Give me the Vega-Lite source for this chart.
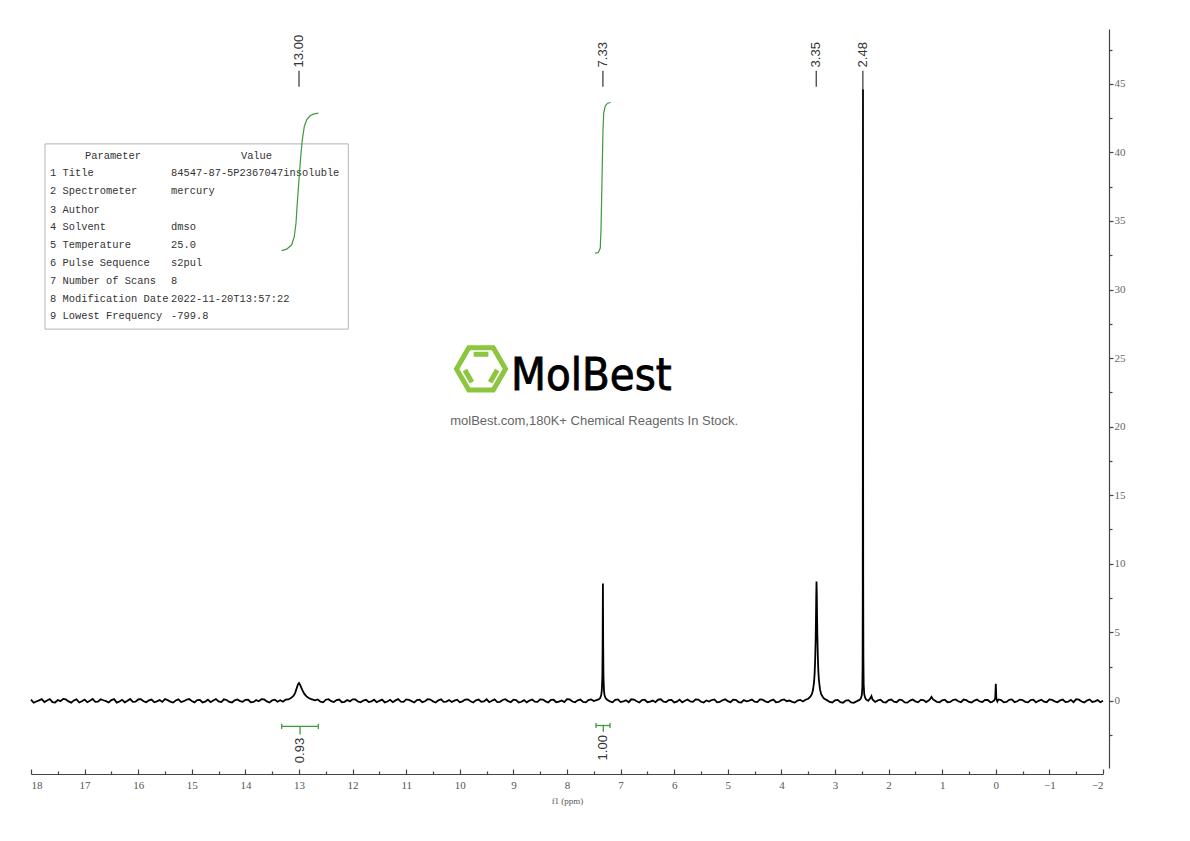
{
  "$schema": "https://vega.github.io/schema/vega-lite/v6.json",
  "width": 1072,
  "height": 739,
  "autosize": {"type": "none"},
  "padding": {"left": 31, "top": 29, "right": 87, "bottom": 73},
  "background": "white",
  "config": {"view": {"stroke": null}},
  "datasets": {
    "spectrum": [
      {"ppm":18.0,"val":0.08},{"ppm":17.9,"val":-0.05},{"ppm":17.8,"val":0.12},{"ppm":17.7,"val":0.02},{"ppm":17.6,"val":-0.1},{"ppm":17.5,"val":0.06},{"ppm":17.4,"val":0.14},{"ppm":17.3,"val":-0.04},{"ppm":17.2,"val":0.03},{"ppm":17.1,"val":-0.12},
      {"ppm":17.0,"val":0.09},{"ppm":16.9,"val":0.01},{"ppm":16.8,"val":-0.07},{"ppm":16.7,"val":0.11},{"ppm":16.6,"val":-0.02},{"ppm":16.5,"val":0.05},{"ppm":16.4,"val":-0.13},{"ppm":16.3,"val":0.07},{"ppm":16.2,"val":0.0},{"ppm":16.1,"val":-0.08},
      {"ppm":16.0,"val":0.1},{"ppm":15.9,"val":-0.03},{"ppm":15.8,"val":0.04},{"ppm":15.7,"val":-0.11},{"ppm":15.6,"val":0.06},{"ppm":15.5,"val":0.13},{"ppm":15.4,"val":-0.06},{"ppm":15.3,"val":0.02},{"ppm":15.2,"val":-0.09},{"ppm":15.1,"val":0.08},
      {"ppm":15.0,"val":-0.01},{"ppm":14.9,"val":0.05},{"ppm":14.8,"val":-0.12},{"ppm":14.7,"val":0.09},{"ppm":14.6,"val":0.03},{"ppm":14.5,"val":-0.05},{"ppm":14.4,"val":0.11},{"ppm":14.3,"val":-0.08},{"ppm":14.2,"val":0.04},{"ppm":14.1,"val":-0.02},
      {"ppm":14.0,"val":0.07},{"ppm":13.9,"val":-0.1},{"ppm":13.8,"val":0.05},{"ppm":13.7,"val":0.12},{"ppm":13.6,"val":-0.04},{"ppm":13.5,"val":0.03},{"ppm":13.4,"val":-0.07},
      {"ppm":17.95,"val":-0.14},{"ppm":17.85,"val":0.03},{"ppm":17.75,"val":-0.09},{"ppm":17.65,"val":0.13},{"ppm":17.55,"val":-0.12},{"ppm":17.45,"val":-0.02},{"ppm":17.35,"val":0.1},{"ppm":17.25,"val":-0.13},{"ppm":17.15,"val":0.11},{"ppm":17.05,"val":-0.03},
      {"ppm":16.95,"val":-0.1},{"ppm":16.85,"val":0.14},{"ppm":16.75,"val":-0.06},{"ppm":16.65,"val":0.04},{"ppm":16.55,"val":-0.12},{"ppm":16.45,"val":0.12},{"ppm":16.35,"val":-0.05},{"ppm":16.25,"val":-0.11},{"ppm":16.15,"val":0.13},{"ppm":16.05,"val":-0.06},
      {"ppm":15.95,"val":0.12},{"ppm":15.85,"val":-0.1},{"ppm":15.75,"val":0.09},{"ppm":15.65,"val":-0.04},{"ppm":15.55,"val":-0.08},{"ppm":15.45,"val":0.05},{"ppm":15.35,"val":-0.13},{"ppm":15.25,"val":0.11},{"ppm":15.15,"val":-0.03},{"ppm":15.05,"val":0.13},
      {"ppm":14.95,"val":-0.11},{"ppm":14.85,"val":0.07},{"ppm":14.75,"val":-0.06},{"ppm":14.65,"val":-0.1},{"ppm":14.55,"val":0.13},{"ppm":14.45,"val":-0.09},{"ppm":14.35,"val":0.06},{"ppm":14.25,"val":-0.12},{"ppm":14.15,"val":0.1},{"ppm":14.05,"val":-0.07},
      {"ppm":13.95,"val":0.09},{"ppm":13.85,"val":-0.08},{"ppm":13.75,"val":-0.03},{"ppm":13.65,"val":0.1},{"ppm":13.55,"val":-0.12},{"ppm":13.45,"val":0.08},
      {"ppm":13.35,"val":0.04},{"ppm":13.3,"val":-0.06},{"ppm":13.25,"val":0.08},{"ppm":13.2,"val":0.1},{"ppm":13.15,"val":0.2},{"ppm":13.1,"val":0.38},{"ppm":13.07,"val":0.6},{"ppm":13.04,"val":0.95},{"ppm":13.02,"val":1.2},{"ppm":13.0,"val":1.3},
      {"ppm":12.98,"val":1.18},{"ppm":12.96,"val":0.98},{"ppm":12.93,"val":0.72},{"ppm":12.9,"val":0.5},{"ppm":12.86,"val":0.32},{"ppm":12.82,"val":0.2},{"ppm":12.77,"val":0.12},{"ppm":12.7,"val":0.03},
      {"ppm":12.6,"val":-0.06},{"ppm":12.5,"val":0.08},{"ppm":12.4,"val":-0.03},{"ppm":12.3,"val":0.05},{"ppm":12.2,"val":-0.1},{"ppm":12.1,"val":0.06},{"ppm":12.0,"val":0.11},{"ppm":11.9,"val":-0.05},{"ppm":11.8,"val":0.02},{"ppm":11.7,"val":-0.09},
      {"ppm":11.6,"val":0.08},{"ppm":11.5,"val":0.0},{"ppm":11.4,"val":-0.12},{"ppm":11.3,"val":0.07},{"ppm":11.2,"val":0.03},{"ppm":11.1,"val":-0.06},{"ppm":11.0,"val":0.1},{"ppm":10.9,"val":-0.02},{"ppm":10.8,"val":0.05},{"ppm":10.7,"val":-0.1},
      {"ppm":10.6,"val":0.12},{"ppm":10.5,"val":-0.04},{"ppm":10.4,"val":0.03},{"ppm":10.3,"val":-0.08},{"ppm":10.2,"val":0.06},{"ppm":10.1,"val":0.01},{"ppm":10.0,"val":-0.11},{"ppm":9.9,"val":0.09},{"ppm":9.8,"val":-0.03},{"ppm":9.7,"val":0.04},
      {"ppm":9.6,"val":-0.07},{"ppm":9.5,"val":0.11},{"ppm":9.4,"val":0.0},{"ppm":9.3,"val":-0.09},{"ppm":9.2,"val":0.06},{"ppm":9.1,"val":-0.02},{"ppm":9.0,"val":0.08},{"ppm":8.9,"val":-0.12},{"ppm":8.8,"val":0.05},{"ppm":8.7,"val":0.02},
      {"ppm":8.6,"val":-0.06},{"ppm":8.5,"val":0.1},{"ppm":8.4,"val":-0.04},{"ppm":8.3,"val":0.07},{"ppm":8.2,"val":-0.1},{"ppm":8.1,"val":0.03},{"ppm":8.0,"val":0.12},{"ppm":7.9,"val":-0.05},{"ppm":7.8,"val":0.04},{"ppm":7.7,"val":-0.08},
      {"ppm":12.65,"val":0.1},{"ppm":12.55,"val":-0.11},{"ppm":12.45,"val":0.12},{"ppm":12.35,"val":-0.09},{"ppm":12.25,"val":0.09},{"ppm":12.15,"val":-0.07},{"ppm":12.05,"val":-0.04},{"ppm":11.95,"val":0.1},{"ppm":11.85,"val":-0.11},{"ppm":11.75,"val":0.07},
      {"ppm":11.65,"val":-0.05},{"ppm":11.55,"val":-0.1},{"ppm":11.45,"val":0.09},{"ppm":11.35,"val":-0.05},{"ppm":11.25,"val":-0.1},{"ppm":11.15,"val":0.12},{"ppm":11.05,"val":-0.08},{"ppm":10.95,"val":0.07},{"ppm":10.85,"val":-0.12},{"ppm":10.75,"val":0.08},
      {"ppm":10.65,"val":-0.03},{"ppm":10.55,"val":0.09},{"ppm":10.45,"val":-0.12},{"ppm":10.35,"val":0.11},{"ppm":10.25,"val":-0.06},{"ppm":10.15,"val":-0.09},{"ppm":10.05,"val":0.08},{"ppm":9.95,"val":-0.04},{"ppm":9.85,"val":0.11},{"ppm":9.75,"val":-0.12},
      {"ppm":9.65,"val":0.09},{"ppm":9.55,"val":-0.05},{"ppm":9.45,"val":-0.1},{"ppm":9.35,"val":0.1},{"ppm":9.25,"val":-0.07},{"ppm":9.15,"val":0.12},{"ppm":9.05,"val":-0.1},{"ppm":8.95,"val":0.06},{"ppm":8.85,"val":-0.07},{"ppm":8.75,"val":-0.11},
      {"ppm":8.65,"val":0.1},{"ppm":8.55,"val":-0.08},{"ppm":8.45,"val":0.09},{"ppm":8.35,"val":-0.12},{"ppm":8.25,"val":0.08},{"ppm":8.15,"val":-0.06},{"ppm":8.05,"val":-0.09},{"ppm":7.95,"val":0.1},{"ppm":7.85,"val":-0.1},{"ppm":7.75,"val":0.09},
      {"ppm":7.65,"val":-0.11},{"ppm":7.55,"val":0.1},
      {"ppm":7.6,"val":0.06},{"ppm":7.5,"val":-0.02},{"ppm":7.45,"val":0.05},{"ppm":7.41,"val":0.1},{"ppm":7.38,"val":0.2},{"ppm":7.36,"val":0.45},{"ppm":7.35,"val":0.8},{"ppm":7.34,"val":1.8},{"ppm":7.335,"val":4.2},{"ppm":7.33,"val":8.55},
      {"ppm":7.325,"val":4.2},{"ppm":7.32,"val":1.8},{"ppm":7.31,"val":0.75},{"ppm":7.3,"val":0.4},{"ppm":7.28,"val":0.2},{"ppm":7.25,"val":0.08},{"ppm":7.2,"val":-0.04},{"ppm":7.1,"val":0.07},{"ppm":7.0,"val":-0.09},
      {"ppm":7.15,"val":-0.11},{"ppm":7.05,"val":0.1},{"ppm":6.95,"val":-0.05},{"ppm":6.85,"val":-0.1},{"ppm":6.75,"val":0.09},{"ppm":6.65,"val":-0.12},{"ppm":6.55,"val":0.08},{"ppm":6.45,"val":-0.06},{"ppm":6.35,"val":-0.1},{"ppm":6.25,"val":0.11},
      {"ppm":6.15,"val":-0.09},{"ppm":6.05,"val":0.07},{"ppm":5.95,"val":-0.06},{"ppm":5.85,"val":-0.11},{"ppm":5.75,"val":0.1},{"ppm":5.65,"val":-0.08},{"ppm":5.55,"val":0.09},{"ppm":5.45,"val":-0.12},{"ppm":5.35,"val":-0.05},{"ppm":5.25,"val":0.1},
      {"ppm":5.15,"val":-0.08},{"ppm":5.05,"val":0.11},{"ppm":4.95,"val":-0.1},{"ppm":4.85,"val":0.07},{"ppm":4.75,"val":-0.12},{"ppm":4.65,"val":-0.04},{"ppm":4.55,"val":0.1},{"ppm":4.45,"val":-0.09},{"ppm":4.35,"val":0.08},{"ppm":4.25,"val":-0.11},
      {"ppm":4.15,"val":0.09},{"ppm":4.05,"val":-0.08},{"ppm":3.95,"val":0.1},{"ppm":3.85,"val":0.02},{"ppm":3.75,"val":-0.13},{"ppm":3.65,"val":0.07},
      {"ppm":6.9,"val":0.04},{"ppm":6.8,"val":0.11},{"ppm":6.7,"val":-0.03},{"ppm":6.6,"val":0.06},{"ppm":6.5,"val":-0.1},{"ppm":6.4,"val":0.02},{"ppm":6.3,"val":0.08},{"ppm":6.2,"val":-0.06},{"ppm":6.1,"val":0.05},{"ppm":6.0,"val":-0.12},
      {"ppm":5.9,"val":0.09},{"ppm":5.8,"val":0.0},{"ppm":5.7,"val":-0.05},{"ppm":5.6,"val":0.1},{"ppm":5.5,"val":-0.07},{"ppm":5.4,"val":0.03},{"ppm":5.3,"val":0.06},{"ppm":5.2,"val":-0.11},{"ppm":5.1,"val":0.04},{"ppm":5.0,"val":-0.02},
      {"ppm":4.9,"val":0.08},{"ppm":4.8,"val":-0.09},{"ppm":4.7,"val":0.05},{"ppm":4.6,"val":0.01},{"ppm":4.5,"val":-0.06},{"ppm":4.4,"val":0.1},{"ppm":4.3,"val":-0.04},{"ppm":4.2,"val":0.02},{"ppm":4.1,"val":-0.1},{"ppm":4.0,"val":0.05},
      {"ppm":3.9,"val":-0.03},{"ppm":3.8,"val":-0.08},{"ppm":3.7,"val":0.02},{"ppm":3.6,"val":-0.05},{"ppm":3.55,"val":0.08},{"ppm":3.5,"val":0.15},{"ppm":3.46,"val":0.3},{"ppm":3.43,"val":0.5},{"ppm":3.41,"val":0.8},{"ppm":3.39,"val":1.4},
      {"ppm":3.38,"val":2.0},{"ppm":3.37,"val":3.0},{"ppm":3.36,"val":4.6},{"ppm":3.355,"val":6.0},{"ppm":3.35,"val":7.6},{"ppm":3.345,"val":8.7},{"ppm":3.34,"val":7.8},{"ppm":3.335,"val":6.3},{"ppm":3.33,"val":4.9},{"ppm":3.32,"val":3.2},
      {"ppm":3.31,"val":2.1},{"ppm":3.3,"val":1.5},{"ppm":3.28,"val":0.85},{"ppm":3.26,"val":0.5},{"ppm":3.23,"val":0.3},{"ppm":3.2,"val":0.15},{"ppm":3.15,"val":0.05},{"ppm":3.1,"val":-0.08},{"ppm":3.0,"val":0.04},{"ppm":2.9,"val":-0.1},
      {"ppm":3.05,"val":-0.12},{"ppm":2.95,"val":0.07},{"ppm":2.85,"val":-0.14},{"ppm":2.75,"val":0.05},{"ppm":2.65,"val":-0.15},
      {"ppm":2.8,"val":0.02},{"ppm":2.7,"val":-0.12},{"ppm":2.6,"val":-0.04},{"ppm":2.55,"val":0.05},{"ppm":2.52,"val":0.15},{"ppm":2.5,"val":0.4},{"ppm":2.49,"val":1.0},{"ppm":2.485,"val":2.5},{"ppm":2.482,"val":8.0},{"ppm":2.48,"val":25.0},
      {"ppm":2.478,"val":44.6},{"ppm":2.476,"val":25.5},{"ppm":2.474,"val":9.0},{"ppm":2.47,"val":3.0},{"ppm":2.465,"val":1.2},{"ppm":2.455,"val":0.5},{"ppm":2.44,"val":0.25},{"ppm":2.42,"val":0.1},{"ppm":2.38,"val":0.0},{"ppm":2.34,"val":0.2},
      {"ppm":2.32,"val":0.35},{"ppm":2.3,"val":0.1},{"ppm":2.25,"val":-0.08},{"ppm":2.2,"val":0.03},{"ppm":2.1,"val":-0.1},{"ppm":2.0,"val":0.05},{"ppm":1.9,"val":-0.06},{"ppm":1.8,"val":0.08},{"ppm":1.7,"val":-0.11},{"ppm":1.6,"val":0.02},
      {"ppm":2.15,"val":0.08},{"ppm":2.05,"val":-0.12},{"ppm":1.95,"val":0.09},{"ppm":1.85,"val":-0.1},{"ppm":1.75,"val":0.06},{"ppm":1.65,"val":-0.13},{"ppm":1.55,"val":0.09},{"ppm":1.45,"val":-0.11},{"ppm":1.35,"val":0.05},{"ppm":1.05,"val":-0.11},
      {"ppm":0.95,"val":0.08},{"ppm":0.85,"val":-0.08},{"ppm":0.75,"val":0.1},{"ppm":0.65,"val":-0.1},{"ppm":0.55,"val":0.05},{"ppm":0.45,"val":-0.12},{"ppm":0.35,"val":0.09},{"ppm":0.25,"val":-0.09},{"ppm":0.15,"val":0.06},{"ppm":0.07,"val":-0.08},
      {"ppm":1.5,"val":-0.04},{"ppm":1.4,"val":0.07},{"ppm":1.3,"val":-0.09},{"ppm":1.24,"val":0.05},{"ppm":1.2,"val":0.28},{"ppm":1.17,"val":0.1},{"ppm":1.1,"val":-0.07},{"ppm":1.0,"val":0.04},{"ppm":0.9,"val":-0.1},{"ppm":0.8,"val":0.06},
      {"ppm":0.7,"val":-0.03},{"ppm":0.6,"val":0.09},{"ppm":0.5,"val":-0.08},{"ppm":0.4,"val":0.02},{"ppm":0.3,"val":-0.05},{"ppm":0.2,"val":0.07},{"ppm":0.1,"val":-0.1},{"ppm":0.03,"val":0.03},{"ppm":0.01,"val":0.2},{"ppm":0.0,"val":1.25},
      {"ppm":-0.01,"val":0.15},{"ppm":-0.03,"val":-0.05},{"ppm":-0.1,"val":0.06},{"ppm":-0.2,"val":-0.08},{"ppm":-0.3,"val":0.1},{"ppm":-0.4,"val":-0.03},{"ppm":-0.5,"val":0.05},{"ppm":-0.6,"val":-0.11},{"ppm":-0.7,"val":0.08},{"ppm":-0.8,"val":0.0},
      {"ppm":-0.9,"val":-0.06},{"ppm":-1.0,"val":0.1},{"ppm":-1.1,"val":-0.04},{"ppm":-1.2,"val":0.03},{"ppm":-1.3,"val":-0.09},{"ppm":-1.4,"val":0.07},{"ppm":-1.5,"val":0.12},{"ppm":-1.6,"val":-0.05},{"ppm":-1.7,"val":0.02},{"ppm":-1.8,"val":-0.08},
      {"ppm":-1.9,"val":0.06},{"ppm":-2.0,"val":0.01},
      {"ppm":-0.05,"val":0.1},{"ppm":-0.15,"val":-0.11},{"ppm":-0.25,"val":0.07},{"ppm":-0.35,"val":-0.1},{"ppm":-0.45,"val":0.09},{"ppm":-0.55,"val":-0.07},{"ppm":-0.65,"val":0.06},{"ppm":-0.75,"val":-0.12},{"ppm":-0.85,"val":0.08},{"ppm":-0.95,"val":-0.1},
      {"ppm":-1.05,"val":0.07},{"ppm":-1.15,"val":-0.11},{"ppm":-1.25,"val":0.09},{"ppm":-1.35,"val":-0.06},{"ppm":-1.45,"val":-0.1},{"ppm":-1.55,"val":0.08},{"ppm":-1.65,"val":-0.12},{"ppm":-1.75,"val":0.1},{"ppm":-1.85,"val":-0.04},{"ppm":-1.95,"val":-0.1}
    ],
    "integrals": [
      {"curve":"a","ppm":13.323,"val":32.84},{"curve":"a","ppm":13.23,"val":32.94},{"curve":"a","ppm":13.136,"val":33.26},{"curve":"a","ppm":13.088,"val":33.86},{"curve":"a","ppm":13.056,"val":34.84},{"curve":"a","ppm":13.032,"val":36.3},{"curve":"a","ppm":13.0,"val":38.0},{"curve":"a","ppm":12.968,"val":39.7},{"curve":"a","ppm":12.938,"val":40.92},{"curve":"a","ppm":12.901,"val":41.89},{"curve":"a","ppm":12.856,"val":42.37},{"curve":"a","ppm":12.795,"val":42.67},{"curve":"a","ppm":12.72,"val":42.81},{"curve":"a","ppm":12.64,"val":42.86},
      {"curve":"b","ppm":7.478,"val":32.65},{"curve":"b","ppm":7.416,"val":32.7},{"curve":"b","ppm":7.379,"val":33.02},{"curve":"b","ppm":7.366,"val":34.35},{"curve":"b","ppm":7.353,"val":36.78},{"curve":"b","ppm":7.341,"val":39.22},{"curve":"b","ppm":7.328,"val":41.65},{"curve":"b","ppm":7.315,"val":42.86},{"curve":"b","ppm":7.285,"val":43.4},{"curve":"b","ppm":7.241,"val":43.59},{"curve":"b","ppm":7.185,"val":43.64}
    ],
    "brackets": [
      {"ppm":13.323,"ppm2":12.64,"val":-1.87,"val2":-1.87},
      {"ppm":13.323,"ppm2":13.323,"val":-1.68,"val2":-2.05},
      {"ppm":12.64,"ppm2":12.64,"val":-1.68,"val2":-2.05},
      {"ppm":12.98,"ppm2":12.98,"val":-1.87,"val2":-2.45},
      {"ppm":7.459,"ppm2":7.198,"val":-1.8,"val2":-1.8},
      {"ppm":7.459,"ppm2":7.459,"val":-1.62,"val2":-1.98},
      {"ppm":7.198,"ppm2":7.198,"val":-1.62,"val2":-1.98},
      {"ppm":7.323,"ppm2":7.323,"val":-1.8,"val2":-2.25}
    ],
    "integralLabels": [
      {"ppm":12.98,"val":-2.7,"label":"0.93"},
      {"ppm":7.323,"val":-2.5,"label":"1.00"}
    ],
    "peakRules": [
      {"ppm":13.0,"val":45.95,"val2":44.78},
      {"ppm":7.33,"val":45.95,"val2":44.78},
      {"ppm":3.35,"val":45.95,"val2":44.78},
      {"ppm":2.48,"val":45.95,"val2":44.6}
    ],
    "peakLabels": [
      {"ppm":13.0,"val":46.2,"label":"13.00"},
      {"ppm":7.33,"val":46.2,"label":"7.33"},
      {"ppm":3.35,"val":46.2,"label":"3.35"},
      {"ppm":2.48,"val":46.2,"label":"2.48"}
    ],
    "tableBox": [{"ppm":17.739,"ppm2":12.08,"val":40.62,"val2":27.11}],
    "tableHead": [
      {"ppm":16.47,"val":39.77,"label":"Parameter"},
      {"ppm":13.793,"val":39.77,"label":"Value"}
    ],
    "tableCells": [
      {"ppm":17.646,"val":38.49,"label":"1 Title"},
      {"ppm":15.388,"val":38.49,"label":"84547-87-5P2367047insoluble"},
      {"ppm":17.646,"val":37.15,"label":"2 Spectrometer"},
      {"ppm":15.388,"val":37.15,"label":"mercury"},
      {"ppm":17.646,"val":35.83,"label":"3 Author"},
      {"ppm":17.646,"val":34.55,"label":"4 Solvent"},
      {"ppm":15.388,"val":34.55,"label":"dmso"},
      {"ppm":17.646,"val":33.24,"label":"5 Temperature"},
      {"ppm":15.388,"val":33.24,"label":"25.0"},
      {"ppm":17.646,"val":31.95,"label":"6 Pulse Sequence"},
      {"ppm":15.388,"val":31.95,"label":"s2pul"},
      {"ppm":17.646,"val":30.65,"label":"7 Number of Scans"},
      {"ppm":15.388,"val":30.65,"label":"8"},
      {"ppm":17.646,"val":29.34,"label":"8 Modification Date"},
      {"ppm":15.388,"val":29.34,"label":"2022-11-20T13:57:22"},
      {"ppm":17.646,"val":28.06,"label":"9 Lowest Frequency"},
      {"ppm":15.388,"val":28.06,"label":"-799.8"}
    ],
    "logo": [{"ppm":9.604,"val":24.21}],
    "brand": [{"ppm":9.045,"val":22.7,"label":"MolBest"}],
    "slogan": [{"ppm":7.493,"val":20.09,"label":"molBest.com,180K+ Chemical Reagents In Stock."}],
    "anchor": [{"ppm":10,"val":0}]
  },
  "layer": [
    {
      "encoding": {
        "x": {
          "field": "ppm", "type": "quantitative",
          "scale": {"domain": [18, -2], "nice": false, "zero": false},
          "axis": {
            "orient": "bottom", "offset": 6,
            "values": [18,17,16,15,14,13,12,11,10,9,8,7,6,5,4,3,2,1,0,-1,-2],
            "format": "d",
            "grid": false,
            "domainColor": "#444", "domainWidth": 1.2,
            "tickColor": "#444", "tickWidth": 1.2, "tickSize": -5,
            "labelFont": "Liberation Serif", "labelFontSize": 11, "labelColor": "#555",
            "labelPadding": 10,
            "title": "f1 (ppm)", "titleFont": "Liberation Serif", "titleFontSize": 9,
            "titleFontWeight": "normal", "titleColor": "#555", "titlePadding": 6
          }
        },
        "y": {
          "field": "val", "type": "quantitative",
          "scale": {"domain": [-4.9, 49], "nice": false, "zero": false},
          "axis": {
            "orient": "right", "offset": 6,
            "values": [0,5,10,15,20,25,30,35,40,45],
            "grid": false,
            "domainColor": "#444", "domainWidth": 1.2,
            "tickColor": "#444", "tickWidth": 1.2, "tickSize": 4,
            "labelFont": "Liberation Serif", "labelFontSize": 11, "labelColor": "#666",
            "labelPadding": 1,
            "title": null
          }
        }
      },
      "layer": [
        {
          "data": {"name": "tableBox"},
          "mark": {"type": "rect", "fill": "white", "fillOpacity": 0, "stroke": "#b4b4b4", "strokeWidth": 1},
          "encoding": {"x2": {"field": "ppm2"}, "y2": {"field": "val2"}}
        },
        {
          "data": {"name": "tableHead"},
          "mark": {"type": "text", "font": "Liberation Mono", "fontSize": 10.4, "color": "#333", "align": "center", "baseline": "middle"},
          "encoding": {"text": {"field": "label"}}
        },
        {
          "data": {"name": "tableCells"},
          "mark": {"type": "text", "font": "Liberation Mono", "fontSize": 10.4, "color": "#333", "align": "left", "baseline": "middle"},
          "encoding": {"text": {"field": "label"}}
        },
        {
          "data": {"name": "logo"},
          "mark": {"type": "point", "filled": false, "stroke": "#8cc63f", "strokeWidth": 5, "opacity": 1, "size": 2401,
            "shape": "M-1,0L-0.5,-0.866L0.5,-0.866L1,0L0.5,0.866L-0.5,0.866Z M-0.3,-0.6L0.3,-0.6 M-0.66,0.05L-0.37,0.55 M0.66,0.05L0.37,0.55"}
        },
        {
          "data": {"name": "brand"},
          "mark": {"type": "text", "font": "DejaVu Sans Condensed", "fontSize": 45, "fontWeight": "normal", "color": "#000", "align": "left", "baseline": "alphabetic", "stroke": "#000", "strokeWidth": 0.8},
          "encoding": {"text": {"field": "label"}}
        },
        {
          "data": {"name": "slogan"},
          "mark": {"type": "text", "font": "Liberation Sans", "fontSize": 13, "color": "#666", "align": "center", "baseline": "alphabetic"},
          "encoding": {"text": {"field": "label"}}
        },
        {
          "data": {"name": "spectrum"},
          "mark": {"type": "line", "color": "#000", "strokeWidth": 1.8}
        },
        {
          "data": {"name": "integrals"},
          "mark": {"type": "line", "color": "#3d9a3d", "strokeWidth": 1.2},
          "encoding": {"detail": {"field": "curve"}}
        },
        {
          "data": {"name": "brackets"},
          "mark": {"type": "rule", "color": "#3d9a3d", "strokeWidth": 1.3},
          "encoding": {"x2": {"field": "ppm2"}, "y2": {"field": "val2"}}
        },
        {
          "data": {"name": "integralLabels"},
          "mark": {"type": "text", "font": "Liberation Sans", "fontSize": 13, "color": "#333", "angle": 270, "align": "right", "baseline": "middle"},
          "encoding": {"text": {"field": "label"}}
        },
        {
          "data": {"name": "peakRules"},
          "mark": {"type": "rule", "color": "#333", "strokeWidth": 1.2},
          "encoding": {"y2": {"field": "val2"}}
        },
        {
          "data": {"name": "peakLabels"},
          "mark": {"type": "text", "font": "Liberation Sans", "fontSize": 13, "color": "#333", "angle": 270, "align": "left", "baseline": "middle"},
          "encoding": {"text": {"field": "label"}}
        }
      ]
    },
    {
      "data": {"name": "anchor"},
      "mark": {"type": "point", "opacity": 0},
      "encoding": {
        "x": {
          "field": "ppm", "type": "quantitative",
          "scale": {"domain": [18, -2], "nice": false, "zero": false},
          "axis": {
            "orient": "bottom", "offset": 6,
            "values": [17.5,16.5,15.5,14.5,13.5,12.5,11.5,10.5,9.5,8.5,7.5,6.5,5.5,4.5,3.5,2.5,1.5,0.5,-0.5,-1.5],
            "labels": false, "domain": false, "grid": false,
            "tickColor": "#444", "tickWidth": 1.2, "tickSize": -3, "title": null
          }
        },
        "y": {"field": "val", "type": "quantitative", "scale": {"domain": [-4.9, 49], "nice": false, "zero": false}, "axis": null}
      }
    },
    {
      "data": {"name": "anchor"},
      "mark": {"type": "point", "opacity": 0},
      "encoding": {
        "x": {"field": "ppm", "type": "quantitative", "scale": {"domain": [18, -2], "nice": false, "zero": false}, "axis": null},
        "y": {
          "field": "val", "type": "quantitative",
          "scale": {"domain": [-4.9, 49], "nice": false, "zero": false},
          "axis": {
            "orient": "right", "offset": 6,
            "values": [47.5,42.5,37.5,32.5,27.5,22.5,17.5,12.5,7.5,2.5,-2.5],
            "labels": false, "domain": false, "grid": false,
            "tickColor": "#444", "tickWidth": 1.2, "tickSize": 3, "title": null
          }
        }
      }
    }
  ],
  "resolve": {"axis": {"x": "independent", "y": "independent"}}
}
